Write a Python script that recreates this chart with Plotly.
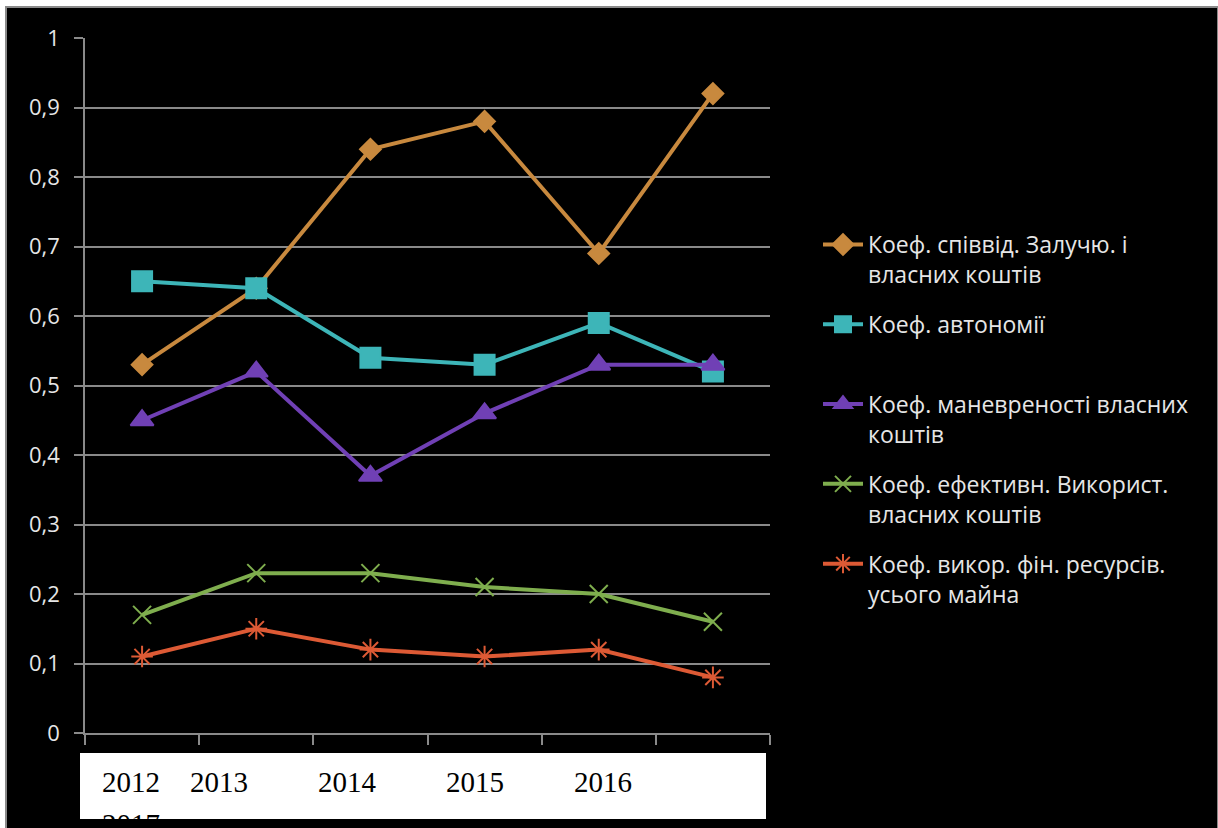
import plotly.graph_objects as go

years = ["2012", "2013", "2014", "2015", "2016", "2017"]

s_names = [
    "Коеф. співвід. Залучю. і<br>власних коштів",
    "Коеф. автономії<br> ",
    "Коеф. маневреності власних<br>коштів",
    "Коеф. ефективн. Використ.<br>власних коштів",
    "Коеф. викор. фін. ресурсів.<br>усього майна",
]
k_zaluch = [0.53, 0.64, 0.84, 0.88, 0.69, 0.92]
k_avton = [0.65, 0.64, 0.54, 0.53, 0.59, 0.52]
k_manevr = [0.45, 0.52, 0.37, 0.46, 0.53, 0.53]
k_efekt = [0.17, 0.23, 0.23, 0.21, 0.20, 0.16]
k_fin = [0.11, 0.15, 0.12, 0.11, 0.12, 0.08]

y_ticks = [0, 0.1, 0.2, 0.3, 0.4, 0.5, 0.6, 0.7, 0.8, 0.9, 1.0]

series = [k_zaluch, k_avton, k_manevr, k_efekt, k_fin]
colors = ["#C8893E", "#3DB5B8", "#7040B5", "#7FAE4E", "#DD5A35"]
symbols = ["diamond", "square", "triangle-up", "x-thin-open", "asterisk-open"]
msizes = [16, 20, 20, 18, 18]

W, H = 1218, 828
L, R, T, B = 85, 770, 38, 733
pw, ph = R - L, B - T


def px(x):
    return (x - L) / pw


def py(y):
    return (B - y) / ph


fig = go.Figure()
for i, (name, vals, c, sym, ms) in enumerate(zip(s_names, series, colors, symbols, msizes)):
    fig.add_trace(go.Scatter(
        x=years, y=vals, name=name, mode="lines+markers",
        legendgroup=f"g{i}",
        line=dict(color=c, width=4),
        marker=dict(symbol=sym, size=ms, color=c,
                    line=dict(color=c, width=2)),
    ))

shapes = [
    dict(type="rect", xref="paper", yref="paper", layer="below",
         x0=px(6), x1=px(1218), y0=py(829), y1=py(7),
         fillcolor="black", line=dict(color="#8a8a8a", width=2)),
    dict(type="rect", xref="paper", yref="paper", layer="above",
         x0=px(80), x1=px(766), y0=py(819), y1=py(753),
         fillcolor="white", line=dict(width=0)),
]

annotations = []
label_x = [100, 188, 316, 444, 572]
for lab, xx in zip(years[:5], label_x):
    annotations.append(dict(
        text=lab, xref="paper", yref="paper", x=px(xx), y=py(782),
        xanchor="left", yanchor="middle", showarrow=False,
        font=dict(family="Liberation Serif", size=29, color="black")))
annotations.append(dict(
    text=years[5], xref="paper", yref="paper", x=px(100), y=py(824),
    xanchor="left", yanchor="middle", showarrow=False,
    font=dict(family="Liberation Serif", size=29, color="black")))

fig.update_layout(
    width=W, height=H,
    margin=dict(l=L, r=W - R, t=T, b=H - B, pad=0),
    paper_bgcolor="white", plot_bgcolor="black",
    separators=", ",
    shapes=shapes, annotations=annotations,
    showlegend=True,
    legend=dict(
        x=px(818), y=py(223), xanchor="left", yanchor="top",
        bgcolor="rgba(0,0,0,0)", valign="top",
        font=dict(family="Open Sans", size=23, color="#E6E6E6"),
        itemwidth=40, tracegroupgap=17,
    ),
    xaxis=dict(
        type="category", range=[-0.5, 5.5], tickson="boundaries",
        showticklabels=False, ticks="outside", ticklen=10,
        tickcolor="#8a8a8a", tickwidth=1.5,
        showgrid=False, showline=True, linecolor="#8a8a8a", linewidth=1.5,
        zeroline=False,
    ),
    yaxis=dict(
        range=[0, 1], tickvals=y_ticks, ticks="outside", ticklen=9,
        tickcolor="#8a8a8a", tickwidth=1.5,
        showgrid=True, gridcolor="#8a8a8a", gridwidth=1.5,
        showline=True, linecolor="#8a8a8a", linewidth=1.5,
        zeroline=False, ticklabelstandoff=10,
        tickfont=dict(family="Open Sans", size=22, color="#E6E6E6"),
    ),
)

fig.write_html("out.html")
